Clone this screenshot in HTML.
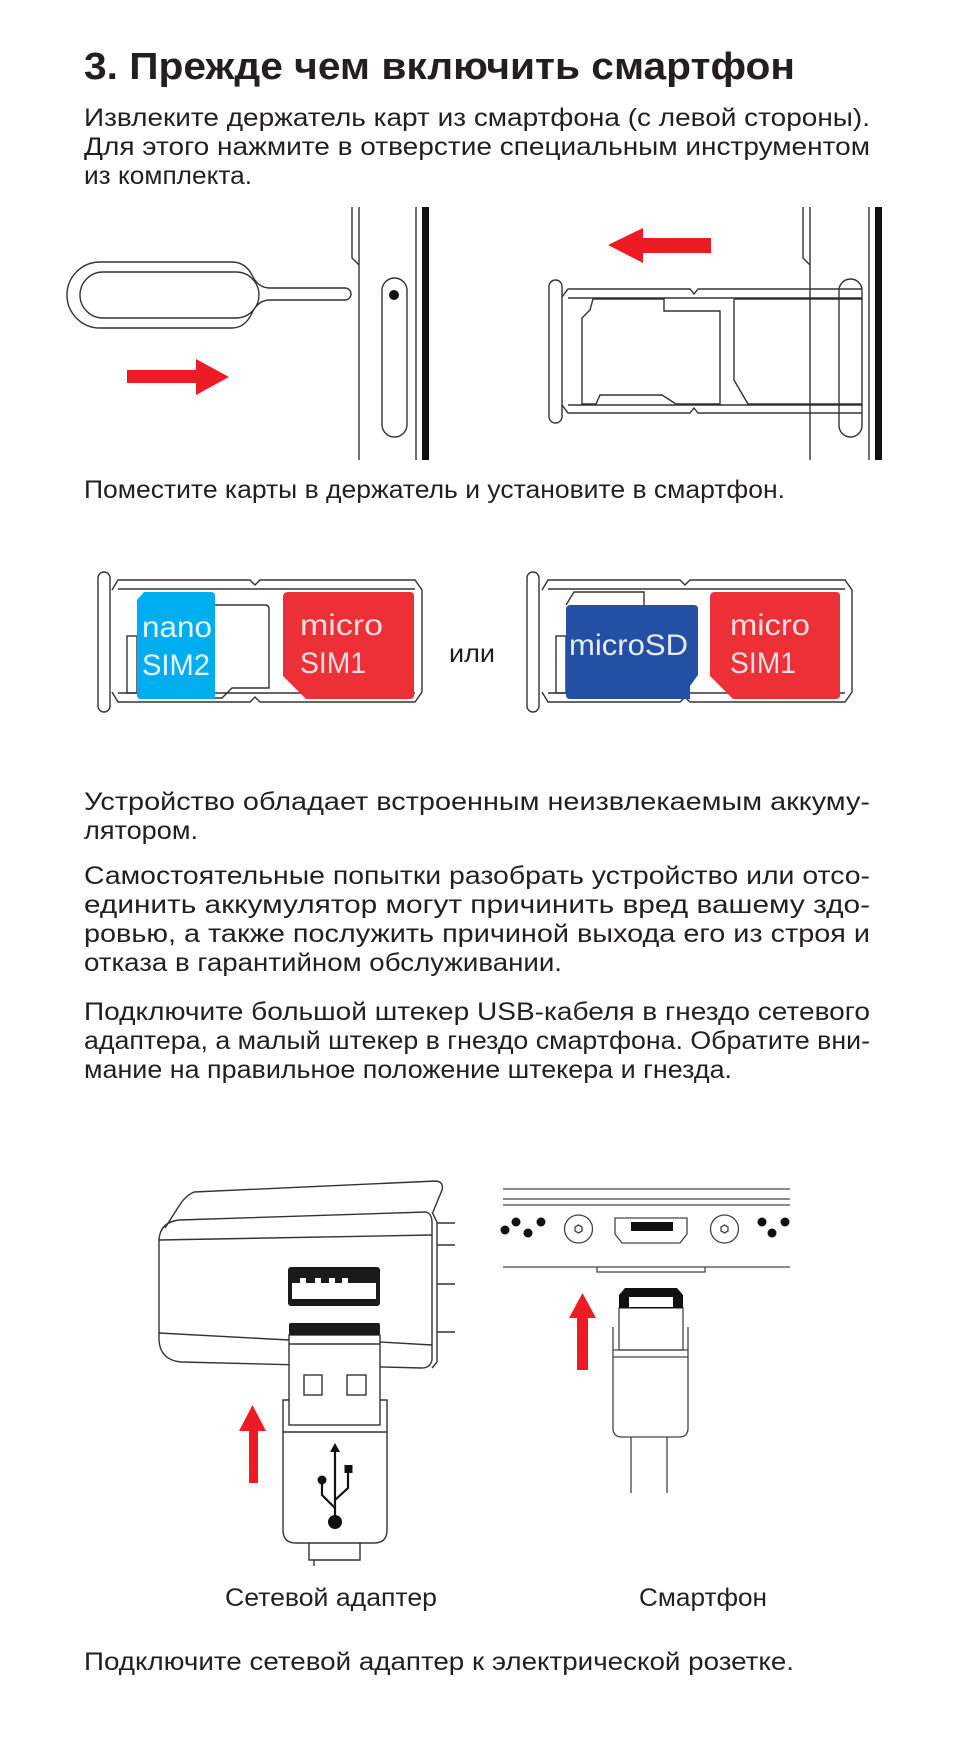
<!DOCTYPE html>
<html><head><meta charset="utf-8"><style>
html,body{margin:0;padding:0;background:#fff;}
svg{display:block;}
text{font-family:"Liberation Sans",sans-serif;fill:#231f20;}
</style></head><body>
<svg width="954" height="1758" viewBox="0 0 954 1758" xmlns="http://www.w3.org/2000/svg">
<text x="84" y="79" font-size="38" font-weight="bold" textLength="711" lengthAdjust="spacingAndGlyphs">3. Прежде чем включить смартфон</text>
<g font-size="25">
<text x="84" y="126" textLength="786" lengthAdjust="spacingAndGlyphs">Извлеките  держатель  карт  из  смартфона  (с  левой  стороны).</text>
<text x="84" y="155" textLength="786" lengthAdjust="spacingAndGlyphs">Для  этого  нажмите  в  отверстие  специальным  инструментом</text>
<text x="84" y="184" textLength="168" lengthAdjust="spacingAndGlyphs">из комплекта.</text>
<text x="84" y="498" textLength="701" lengthAdjust="spacingAndGlyphs">Поместите карты в держатель и установите в смартфон.</text>
<text x="84" y="810" textLength="786" lengthAdjust="spacingAndGlyphs">Устройство  обладает  встроенным  неизвлекаемым  аккуму-</text>
<text x="84" y="839" textLength="114" lengthAdjust="spacingAndGlyphs">лятором.</text>
<text x="84" y="884" textLength="786" lengthAdjust="spacingAndGlyphs">Самостоятельные попытки разобрать устройство или отсо-</text>
<text x="84" y="913" textLength="786" lengthAdjust="spacingAndGlyphs">единить  аккумулятор  могут  причинить  вред  вашему  здо-</text>
<text x="84" y="942" textLength="786" lengthAdjust="spacingAndGlyphs">ровью, а также послужить причиной выхода его из строя и</text>
<text x="84" y="971" textLength="478" lengthAdjust="spacingAndGlyphs">отказа в гарантийном обслуживании.</text>
<text x="84" y="1020" textLength="786" lengthAdjust="spacingAndGlyphs">Подключите большой штекер USB-кабеля в гнездо сетевого</text>
<text x="84" y="1049" textLength="786" lengthAdjust="spacingAndGlyphs">адаптера, а малый штекер в гнездо смартфона. Обратите вни-</text>
<text x="84" y="1078" textLength="648" lengthAdjust="spacingAndGlyphs">мание на правильное положение штекера и гнезда.</text>
<text x="225" y="1606" textLength="212" lengthAdjust="spacingAndGlyphs">Сетевой адаптер</text>
<text x="639" y="1606" textLength="128" lengthAdjust="spacingAndGlyphs">Смартфон</text>
<text x="84" y="1670" textLength="710" lengthAdjust="spacingAndGlyphs">Подключите сетевой адаптер к электрической розетке.</text>
</g>

<g fill="none" stroke="#333" stroke-width="1.4">
<path d="M100,262 L232,262 Q245,262 252,275 Q258,288 270,288 L345,288 A6,6 0 0 1 345,300 L270,300 Q258,300 252,313 Q245,328 232,328 L100,328 A33,33 0 0 1 100,262 Z"/>
<rect x="80" y="272" width="179" height="46" rx="23"/>
<line x1="359" y1="207" x2="359" y2="460"/>
<path d="M352,207 L352,258 L359,265"/>
<rect x="382" y="278" width="25" height="159" rx="12.5"/>
<line x1="416" y1="207" x2="416" y2="460"/>
<line x1="810" y1="207" x2="810" y2="460"/>
<path d="M803,207 L803,258 L810,265"/>
<line x1="869" y1="207" x2="869" y2="460"/>
<rect x="549" y="280" width="13" height="143" rx="6.5"/>
<rect x="839" y="279" width="23" height="158" rx="11.5"/>
<path d="M562,297 L568,289 L690,289 L694,294 L698,289 L862,289"/>
<path d="M562,405 L568,413 L690,413 L694,408 L698,413 L862,413"/>
<line x1="568" y1="298" x2="862" y2="298"/>
<line x1="568" y1="405" x2="862" y2="405"/>
<path d="M582,318 L590,310 L593,299 L664,299 L664,311 L720,311 L720,404 L676,404 L662,395 L600,395 L596,404 L582,404 Z"/>
<path d="M734,299 L862,299 M734,299 L734,380 L748,404 L862,404"/>
</g>
<circle cx="394" cy="295" r="5" fill="#111"/>
<rect x="422" y="207" width="7" height="253" fill="#111"/>
<rect x="875" y="207" width="7" height="253" fill="#111"/>
<path d="M127,370 L196,370 L196,359 L229,377 L196,395 L196,383 L127,383 Z" fill="#ed1c24"/>
<path d="M608,245 L643,228 L643,238 L711,238 L711,253 L643,253 L643,263 Z" fill="#ed1c24"/>

<g fill="none" stroke="#333" stroke-width="1.4">
<rect x="98" y="572" width="12" height="140" rx="6"/>
<path d="M112,590 L118,580 L250,580 L255,585 L260,580 L415,580 L422,590 L422,692 L415,702 L260,702 L255,697 L250,702 L118,702 L112,692"/>
<path d="M118,589 L415,589 M118,693 L415,693"/>
<rect x="127" y="636" width="10" height="57"/>
<path d="M215,605 L265,605 Q269,605 269,609 L269,688 L232,688 L222,698 L215,698"/>
<rect x="527" y="572" width="12" height="140" rx="6"/>
<path d="M542,590 L548,580 L680,580 L685,585 L690,580 L845,580 L852,590 L852,692 L845,702 L690,702 L685,697 L680,702 L548,702 L542,692"/>
<path d="M548,589 L845,589 M548,693 L845,693"/>
<path d="M566,605 L574,592 L644,592 L644,605"/>
<rect x="556" y="636" width="10" height="57"/>
</g>
<path d="M144,592 L211,592 Q215,592 215,596 L215,699 L141,699 Q137,699 137,695 L137,600 Z" fill="#00aeef"/>
<path d="M288,592 L410,592 Q414,592 414,596 L414,695 Q414,699 410,699 L306,699 L283,676 L283,597 Q283,592 288,592 Z" fill="#ed2f37"/>
<path d="M571,605 L694,605 Q698,605 698,609 L698,675 L690,686 L690,699 L570,699 Q566,699 566,695 L566,609 Q566,605 571,605 Z" fill="#2350a5"/>
<path d="M715,592 L836,592 Q840,592 840,596 L840,695 Q840,699 836,699 L733,699 L710,676 L710,597 Q710,592 715,592 Z" fill="#ed2f37"/>
<g font-size="30">
<text x="142" y="637" textLength="70" lengthAdjust="spacingAndGlyphs" style="fill:#e8f6fd">nano</text>
<text x="142" y="675" textLength="68" lengthAdjust="spacingAndGlyphs" style="fill:#e8f6fd">SIM2</text>
<text x="300" y="635" textLength="83" lengthAdjust="spacingAndGlyphs" style="fill:#f5e0e0">micro</text>
<text x="300" y="673" textLength="66" lengthAdjust="spacingAndGlyphs" style="fill:#f5e0e0">SIM1</text>
<text x="569" y="655" textLength="119" lengthAdjust="spacingAndGlyphs" style="fill:#e6ecf7">microSD</text>
<text x="730" y="635" textLength="80" lengthAdjust="spacingAndGlyphs" style="fill:#f5e0e0">micro</text>
<text x="730" y="673" textLength="66" lengthAdjust="spacingAndGlyphs" style="fill:#f5e0e0">SIM1</text>
</g>
<text x="449" y="662" font-size="25" textLength="46" lengthAdjust="spacingAndGlyphs">или</text>

<g fill="none" stroke="#333" stroke-width="1.4">
<path d="M194,1192 L436,1181 Q444,1182 442,1190 L433,1212"/>
<path d="M194,1192 Q185,1196 179,1206 L165,1228"/>
<path d="M179,1220 L426,1212 Q432,1214 432,1222 L432,1360 Q430,1368 422,1368 L181,1362 Q160,1360 159,1340 L159,1240 Q160,1222 179,1220 Z"/>
<line x1="159" y1="1240" x2="432" y2="1235"/>
<line x1="159" y1="1333" x2="289" y2="1340"/>
<line x1="380" y1="1342" x2="432" y2="1345"/>
<path d="M432,1212 L437,1222 L437,1362 L432,1368"/>
<line x1="437" y1="1223" x2="455" y2="1223"/>
<line x1="437" y1="1245" x2="455" y2="1245"/>
<line x1="437" y1="1284" x2="455" y2="1284"/>
<line x1="437" y1="1332" x2="455" y2="1332"/>
<path d="M283,1400 L283,1530 Q283,1543 296,1543 L374,1543 Q387,1543 387,1530 L387,1400 Z" fill="#fff"/>
<line x1="283" y1="1432" x2="387" y2="1432"/>
<rect x="289" y="1335" width="91" height="90" fill="#fff"/>
<line x1="289" y1="1344" x2="380" y2="1344"/>
<rect x="304" y="1375" width="18" height="20"/>
<rect x="347" y="1375" width="19" height="20"/>
<path d="M309,1543 L309,1560 L360,1560 L360,1543"/>
<line x1="314" y1="1560" x2="314" y2="1566"/>
</g>
<rect x="288" y="1267" width="92" height="39" rx="3" fill="#1a1a1a"/>
<path d="M292,1283 L300,1283 L300,1278 L306,1278 L306,1283 L315,1283 L315,1278 L321,1278 L321,1283 L329,1283 L329,1278 L335,1278 L335,1283 L342,1283 L342,1278 L348,1278 L348,1283 L376,1283 L376,1299 L292,1299 Z" fill="#fff"/>
<rect x="289" y="1323" width="91" height="12" rx="2" fill="#1a1a1a"/>
<g stroke="#111" stroke-width="2.2" fill="none">
<line x1="335" y1="1450" x2="335" y2="1520"/>
<path d="M335,1508 L322,1495 L322,1482"/>
<path d="M335,1500 L348,1488 L348,1472"/>
</g>
<path d="M335,1443 L330,1452 L340,1452 Z" fill="#111"/>
<circle cx="335" cy="1522" r="7" fill="#111"/>
<circle cx="322" cy="1480" r="4.5" fill="#111"/>
<rect x="344.5" y="1465" width="8" height="8" fill="#111"/>
<path d="M249,1483 L249,1431 L239,1431 L252.5,1405 L266,1431 L258,1431 L258,1483 Z" fill="#ed1c24"/>

<g fill="none" stroke="#444" stroke-width="1.3">
<line x1="503" y1="1189" x2="790" y2="1189"/>
<line x1="503" y1="1199" x2="790" y2="1199"/>
<line x1="503" y1="1205" x2="790" y2="1205"/>
<line x1="503" y1="1267" x2="790" y2="1267"/>
<path d="M597,1267 L597,1272 L705,1272 L705,1267"/>
<circle cx="578.5" cy="1229" r="14"/>
<circle cx="724.5" cy="1229" r="14"/>
<path d="M578.5,1225 l3.5,2 v4 l-3.5,2 l-3.5,-2 v-4 Z"/>
<path d="M724.5,1225 l3.5,2 v4 l-3.5,2 l-3.5,-2 v-4 Z"/>
<path d="M615,1218 L687,1218 L687,1234 L680,1243 L622,1243 L615,1234 Z"/>
<path d="M613,1327 L613,1428 Q613,1437 622,1437 L679,1437 Q688,1437 688,1428 L688,1327"/>
<rect x="619" y="1308" width="64" height="42" fill="#fff"/>
<line x1="613" y1="1357" x2="688" y2="1357"/>
<line x1="613" y1="1350" x2="688" y2="1350"/>
<line x1="631" y1="1437" x2="631" y2="1493"/>
<line x1="667" y1="1437" x2="667" y2="1493"/>
</g>
<rect x="631" y="1222" width="42" height="9" fill="#111"/>
<path d="M625,1288 L677,1288 L683,1295 L683,1308 L619,1308 L619,1295 Z" fill="#111"/>
<rect x="629" y="1297" width="44" height="10" fill="#fff"/>
<g fill="#111">
<circle cx="505" cy="1230" r="4.5"/><circle cx="516" cy="1222" r="4.5"/><circle cx="528" cy="1233" r="4.5"/><circle cx="541" cy="1222" r="4.5"/>
<circle cx="762" cy="1222" r="4.5"/><circle cx="772" cy="1233" r="4.5"/><circle cx="785" cy="1222" r="4.5"/>
</g>
<path d="M577,1370 L577,1318 L569,1318 L582.5,1293 L596,1318 L588,1318 L588,1370 Z" fill="#ed1c24"/>
</svg>
</body></html>
